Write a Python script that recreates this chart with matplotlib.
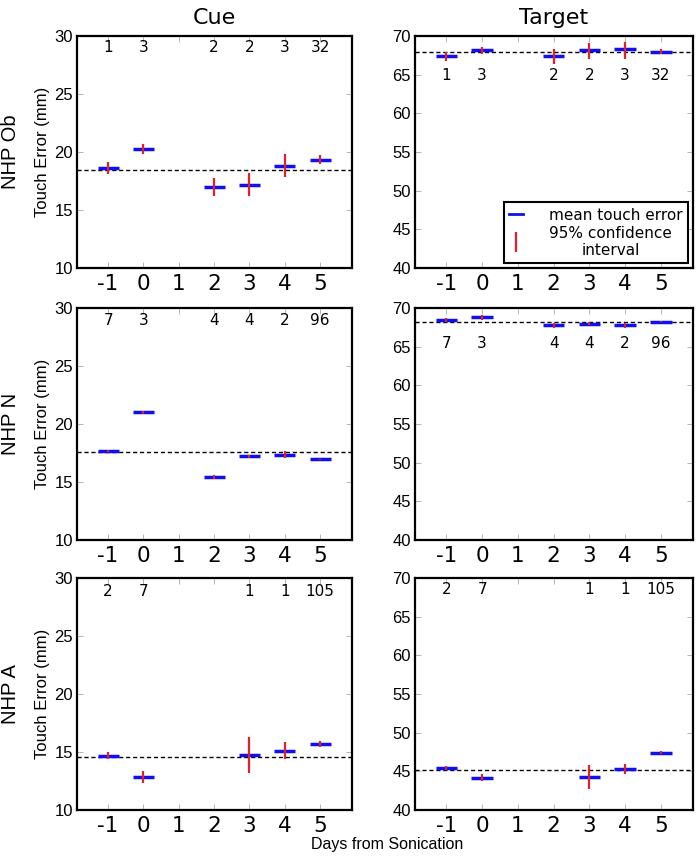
import matplotlib
matplotlib.use('Agg')
import matplotlib.pyplot as plt
from matplotlib.lines import Line2D

# days from sonication with data, per animal
days_ob = [-1, 0, 2, 3, 4, 5]
days_n = [-1, 0, 2, 3, 4, 5]
days_a = [-1, 0, 3, 4, 5]

counts_ob = [1, 3, 2, 2, 3, 32]
counts_n = [7, 3, 4, 4, 2, 96]
counts_a = [2, 7, 1, 1, 105]

# Cue touch error: mean, CI low, CI high, baseline
cue_ob_mean = [18.58, 20.27, 17.0, 17.17, 18.83, 19.35]
cue_ob_lo = [18.1, 19.8, 16.2, 16.2, 17.85, 19.0]
cue_ob_hi = [19.1, 20.7, 17.8, 18.15, 19.8, 19.7]
cue_ob_base = 18.43

cue_n_mean = [17.68, 21.0, 15.45, 17.2, 17.35, 16.97]
cue_n_lo = [17.58, 20.85, 15.3, 17.1, 17.05, 16.92]
cue_n_hi = [17.78, 21.15, 15.6, 17.3, 17.65, 17.02]
cue_n_base = 17.57

cue_a_mean = [14.66, 12.82, 14.75, 15.12, 15.67]
cue_a_lo = [14.36, 12.32, 13.2, 14.42, 15.42]
cue_a_hi = [14.96, 13.32, 16.3, 15.82, 15.92]
cue_a_base = 14.6

# Target touch error
tgt_ob_mean = [67.41, 68.14, 67.41, 68.19, 68.36, 67.97]
tgt_ob_lo = [66.76, 67.63, 66.33, 66.98, 67.07, 67.63]
tgt_ob_hi = [67.97, 68.58, 68.27, 69.14, 69.22, 68.27]
tgt_ob_base = 67.97

tgt_n_mean = [68.49, 68.79, 67.76, 67.97, 67.76, 68.23]
tgt_n_lo = [68.24, 68.49, 67.46, 67.77, 67.46, 68.18]
tgt_n_hi = [68.74, 69.09, 68.06, 68.17, 68.06, 68.28]
tgt_n_base = 68.19

tgt_a_mean = [45.41, 44.16, 44.29, 45.28, 47.4]
tgt_a_lo = [45.11, 43.71, 42.73, 44.63, 47.2]
tgt_a_hi = [45.71, 44.61, 45.85, 45.93, 47.6]
tgt_a_base = 45.2

xticks = [-1, 0, 1, 2, 3, 4, 5]
row_names = ['NHP Ob', 'NHP N', 'NHP A']
col_names = ['Cue', 'Target']

W, H = 700, 856
fig = plt.figure(figsize=(W / 100, H / 100), dpi=100)

blue = '#1010ee'
red = '#e0202a'


def px_axes(x0, y0, x1, y1):
    return fig.add_axes([x0 / W, 1 - y1 / H, (x1 - x0) / W, (y1 - y0) / H])


panels = [
    # (row, col, days, counts, mean, lo, hi, base, ylim, yticks, count_y)
    (0, 0, days_ob, counts_ob, cue_ob_mean, cue_ob_lo, cue_ob_hi, cue_ob_base, (10, 30), range(10, 31, 5), 29.0),
    (0, 1, days_ob, counts_ob, tgt_ob_mean, tgt_ob_lo, tgt_ob_hi, tgt_ob_base, (40, 70), range(40, 71, 5), 64.9),
    (1, 0, days_n, counts_n, cue_n_mean, cue_n_lo, cue_n_hi, cue_n_base, (10, 30), range(10, 31, 5), 28.9),
    (1, 1, days_n, counts_n, tgt_n_mean, tgt_n_lo, tgt_n_hi, tgt_n_base, (40, 70), range(40, 71, 5), 65.4),
    (2, 0, days_a, counts_a, cue_a_mean, cue_a_lo, cue_a_hi, cue_a_base, (10, 30), range(10, 31, 5), 28.8),
    (2, 1, days_a, counts_a, tgt_a_mean, tgt_a_lo, tgt_a_hi, tgt_a_base, (40, 70), range(40, 71, 5), 68.5),
]

col_x = [(77, 352), (415, 693)]
row_y = [(36, 268), (308, 540), (578, 810)]

axes = {}
for row, col, days, counts, mean, lo, hi, base, ylim, yticks, cy in panels:
    x0, x1 = col_x[col]
    y0, y1 = row_y[row]
    ax = px_axes(x0, y0, x1, y1)
    axes[(row, col)] = ax

    ax.axhline(base, color='black', ls='--', lw=1.0, dashes=(3, 2), zorder=1)
    ax.hlines(mean, [d - 0.3 for d in days], [d + 0.3 for d in days],
              color=blue, lw=2.5, zorder=2)
    ax.vlines(days, lo, hi, color=red, lw=1.6, zorder=3)
    for d, c in zip(days, counts):
        ax.text(d, cy, str(c), ha='center', va='center', fontsize=11,
                family='DejaVu Sans')

    ax.set_xlim(-1.88, 5.9)
    ax.set_ylim(*ylim)
    ax.set_xticks(xticks)
    ax.set_xticklabels([str(t) for t in xticks], family='DejaVu Sans', fontsize=15.5)
    ax.set_yticks(list(yticks))
    ax.set_yticklabels([str(t) for t in yticks], family='Liberation Sans', fontsize=12)
    ax.tick_params(direction='in', length=4, width=0.6, color='#aaaaaa',
                   top=True, right=True, pad=3)
    ax.tick_params(axis='x', pad=4)
    for s in ax.spines.values():
        s.set_linewidth(1.6)

    if col == 0:
        ax.set_ylabel('Touch Error (mm)', family='Liberation Sans', fontsize=12, labelpad=3)
        ax.text(-0.24, 0.5, row_names[row], transform=ax.transAxes, rotation=90,
                ha='center', va='center', fontsize=14.5, family='Liberation Sans')
    if row == 0:
        ax.set_title(col_names[col], family='DejaVu Sans', fontsize=16, pad=9)

# legend in top-right panel
handles = [Line2D([], [], color=blue, lw=2),
           Line2D([], [], color=red, lw=0, marker='|', markersize=14, markeredgewidth=1.6)]
leg = axes[(0, 1)].legend(handles, ['mean touch error', '95% confidence\ninterval'],
                          loc='lower right', bbox_to_anchor=(0.982, 0.02),
                          fancybox=False, framealpha=1, edgecolor='black',
                          prop={'family': 'DejaVu Sans', 'size': 11},
                          handlelength=0.9, borderpad=0.35, labelspacing=0.2,
                          handletextpad=1.7, borderaxespad=0)
leg.get_frame().set_linewidth(1.5)
for t in leg.get_texts():
    t.set_multialignment('center')

fig.text(387 / W, 1 - 845 / H, 'Days from Sonication', ha='center', va='center',
         family='Liberation Sans', fontsize=11.5)

fig.savefig('out.png', dpi=100)
